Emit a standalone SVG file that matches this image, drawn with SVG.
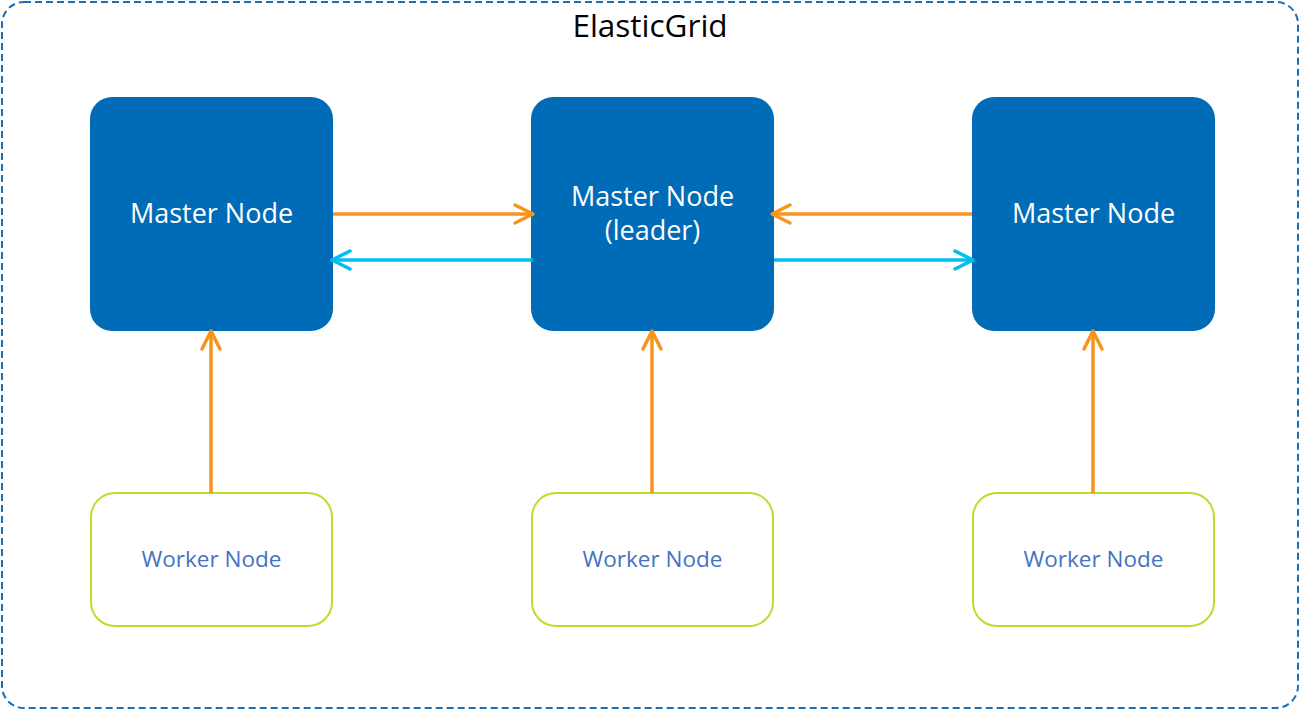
<svg xmlns="http://www.w3.org/2000/svg" width="1300" height="710" viewBox="0 0 1300 710">
<style>
.master{fill:#006bb6}
.worker{fill:#fff;stroke:#c2d92f;stroke-width:2}
.mt{font-family:"Open Sans",sans-serif;font-size:27px;fill:#fff;text-anchor:middle}
.wt{font-family:"Open Sans",sans-serif;font-size:22.5px;fill:#4472c4;text-anchor:middle}
.o{stroke:#f7941d;stroke-width:3.5;fill:none}
.c{stroke:#00bff0;stroke-width:3.5;fill:none}
.head{fill:none;stroke-width:3.5;stroke-linecap:round;stroke-linejoin:round}
</style>
<rect width="1300" height="710" fill="#fff"/>
<g id="grid">
<rect x="2" y="2" width="1296" height="706" rx="22" fill="none" stroke="#1a70b8" stroke-width="2" stroke-dasharray="7 4"/>
<text x="650" y="37" font-family="'Open Sans',sans-serif" font-size="31.5" text-anchor="middle" fill="#000">ElasticGrid</text>
</g>
<g id="master1"><rect class="master" x="90" y="97" width="243" height="234" rx="22"/><text class="mt" x="211.5" y="223">Master Node</text></g>
<g id="master2"><rect class="master" x="531" y="97" width="243" height="234" rx="22"/><text class="mt" x="652.5" y="206">Master Node</text><text class="mt" x="652.5" y="240">(leader)</text></g>
<g id="master3"><rect class="master" x="972" y="97" width="243" height="234" rx="22"/><text class="mt" x="1093.5" y="223">Master Node</text></g>
<g id="worker1"><rect class="worker" x="91" y="493" width="241" height="133" rx="24"/><text class="wt" x="211.5" y="567">Worker Node</text></g>
<g id="worker2"><rect class="worker" x="532" y="493" width="241" height="133" rx="24"/><text class="wt" x="652.5" y="567">Worker Node</text></g>
<g id="worker3"><rect class="worker" x="973" y="493" width="241" height="133" rx="24"/><text class="wt" x="1093.5" y="567">Worker Node</text></g>
<g id="connectors">
<path class="o" d="M333 214H532"/><path class="head" stroke="#f7941d" d="M515 205L533 214L515 223"/>
<path class="c" d="M533 260H333"/><path class="head" stroke="#00bff0" d="M350 251L332 260L350 269"/>
<path class="o" d="M972 214H773"/><path class="head" stroke="#f7941d" d="M790 205L772 214L790 223"/>
<path class="c" d="M774 260H972"/><path class="head" stroke="#00bff0" d="M955 251L973 260L955 269"/>
<path class="o" d="M211 493V333"/><path class="head" stroke="#f7941d" d="M202 349L211 331L220 349"/>
<path class="o" d="M652 493V333"/><path class="head" stroke="#f7941d" d="M643 349L652 331L661 349"/>
<path class="o" d="M1093 493V333"/><path class="head" stroke="#f7941d" d="M1084 349L1093 331L1102 349"/>
</g>
</svg>
